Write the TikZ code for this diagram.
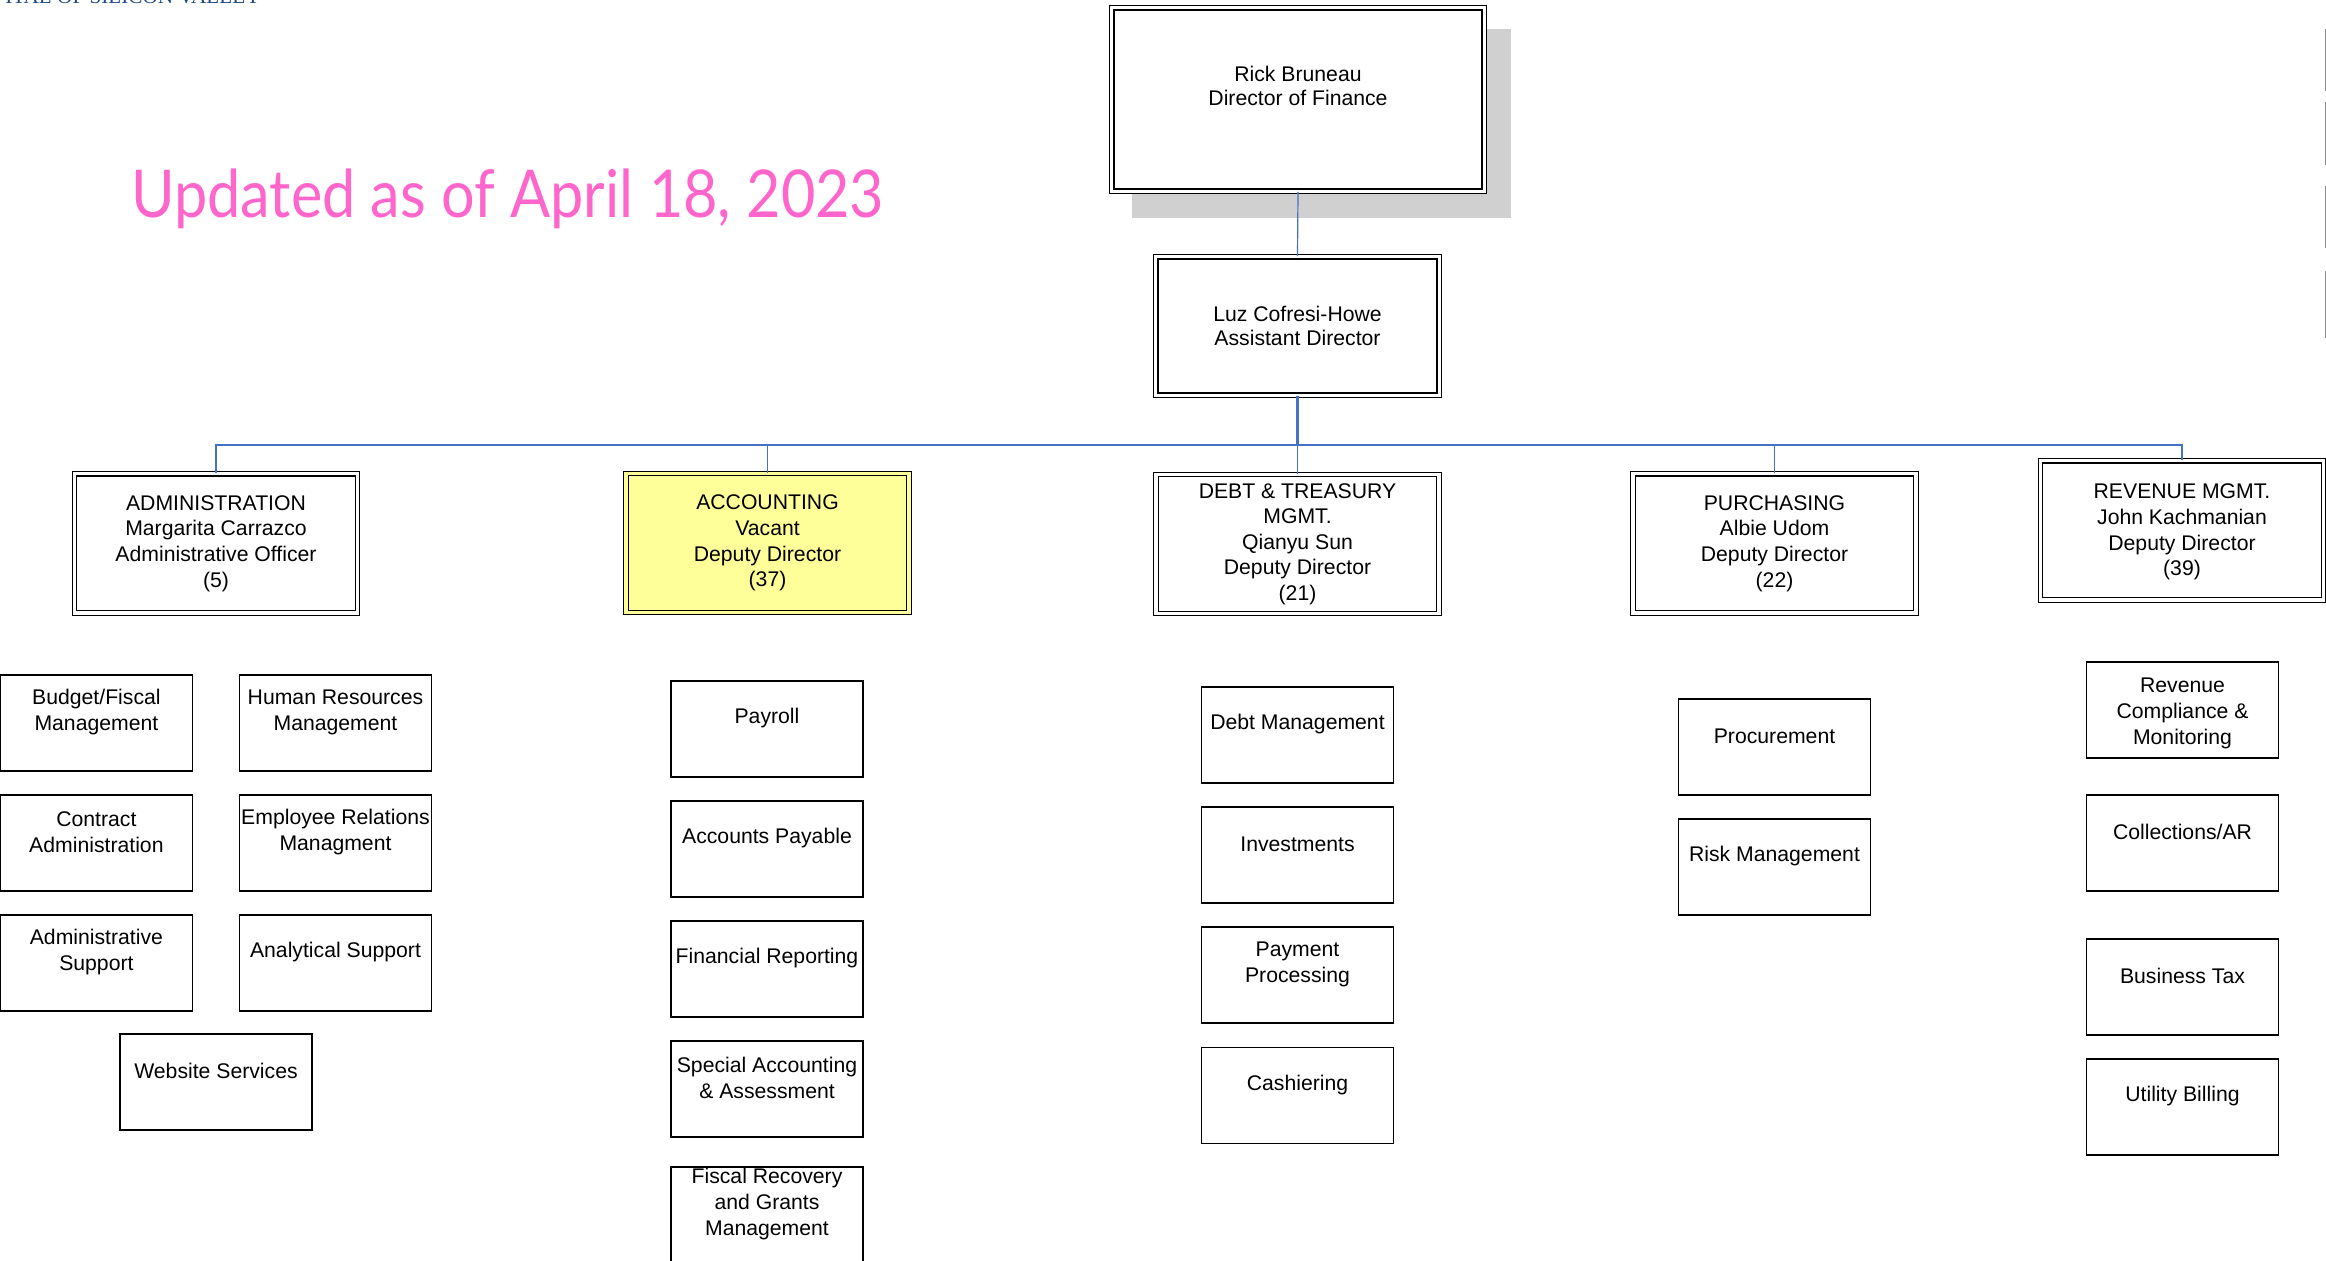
\documentclass[tikz,border=0pt]{standalone}
\usepackage{fontspec}
\setmainfont{Liberation Sans}
\newfontfamily\titlefont{Lato}
\newfontfamily\serifhead{Liberation Serif}
\usetikzlibrary{calc}
\definecolor{linkblue}{RGB}{68,114,196}
\definecolor{accyellow}{RGB}{255,255,153}
\definecolor{shadowgray}{RGB}{208,208,208}
\definecolor{titlepink}{RGB}{255,102,204}
\definecolor{navyhead}{RGB}{31,73,125}
\definecolor{edgegray}{RGB}{140,140,140}
\begin{document}
\begin{tikzpicture}[x=0.5pt,y=-0.5pt,
  dblbox/.style={draw=black, line width=0.6pt, double=white, double distance=1.6pt,
    inner sep=0pt, align=center, font=\fontsize{10.6}{12.8}\selectfont},
  deptbox/.style={dblbox, minimum width=141.5pt, minimum height=69.6pt},
  subbox/.style={draw=black, line width=0.75pt, fill=white, inner sep=0pt,
    minimum width=96pt, minimum height=48pt},
  subtxt/.style={align=center, inner sep=0pt, font=\fontsize{10.6}{13}\selectfont},
  conn/.style={draw=linkblue, line width=0.8pt},
]
\useasboundingbox (0,0) rectangle (2326,1261);
\clip (0,0) rectangle (2326,1261);

% header remnants
\node[anchor=base east, inner sep=0pt, text=navyhead, font=\serifhead\fontsize{10.6}{12}\selectfont] (cap) at (261,4) {CAPITAL OF SILICON VALLEY};
\node[anchor=base west, inner sep=0pt, text=titlepink, font=\titlefont\fontsize{33}{40}\selectfont] (title) at (131,218) {\scalebox{0.9}[1]{Updated as of April 18, 2023}};

% right edge fragments
\foreach \a/\b in {29/91,102/165,186/248,271/338}
  \draw[edgegray, line width=0.5pt] (2325.3,\a) -- (2325.3,\b);

% director
\fill[shadowgray] (1132,29) rectangle (1511,218);
\node[dblbox, fill=white, minimum width=186.2pt, minimum height=91.7pt] (dir) at (1298,99.5) {};
\node[subtxt, font=\fontsize{10.6}{12}\selectfont] (dirT) at (1298,86) {Rick Bruneau\\Director of Finance};

% assistant
\node[dblbox, minimum width=141.7pt, minimum height=69.2pt, font=\fontsize{10.6}{12}\selectfont] (asst) at (1297.5,326) {Luz Cofresi-Howe\\Assistant Director};

% departments
\node[deptbox] (admin) at (216,543.5) {ADMINISTRATION\\Margarita Carrazco\\Administrative Officer\\(5)};
\node[deptbox, fill=accyellow, double=accyellow] (acct) at (767.5,543) {ACCOUNTING\\Vacant\\Deputy Director\\(37)};
\node[deptbox] (debt) at (1297.5,544) {DEBT \& TREASURY\\MGMT.\\Qianyu Sun\\Deputy Director\\(21)};
\node[deptbox] (purch) at (1774.5,543.5) {PURCHASING\\Albie Udom\\Deputy Director\\(22)};
\node[deptbox] (rev) at (2182,530.5) {};
\node[subtxt, font=\fontsize{10.6}{12.8}\selectfont] (revT) at (2182,532) {REVENUE MGMT.\\John Kachmanian\\Deputy Director\\(39)};

% connectors
\coordinate (bus) at (1297.5,445);
\draw[conn, line width=0.6pt] (dir.south) -- (asst.north);
\draw[conn, line width=1.3pt] (asst.south) -- (bus);
\foreach \n in {admin,acct,debt,purch,rev}
  \draw[conn] (bus) -| (\n.north);

% sub units
\newcommand{\unit}[4]{% name, x, y(center), text
  \node[subbox] (#1) at (#2,#3) {};
  \node[subtxt] (#1T) at ($(#1.north)+(0,38)$) {#4};}

% administration
\unit{budget}{96.4}{723}{Budget/Fiscal\\Management}
\unit{hr}{335.5}{723}{Human Resources\\Management}
\unit{contract}{96.4}{843}{Contract\\Administration}
\unit{emprel}{335.5}{843}{Employee Relations\\Managment}
\unit{adminsup}{96.4}{963}{Administrative\\Support}
\unit{analyt}{335.5}{963}{Analytical Support}
\unit{web}{216}{1082}{Website Services}

% accounting
\unit{payroll}{767}{729}{Payroll}
\unit{ap}{767}{849}{Accounts Payable}
\unit{finrep}{767}{969}{Financial Reporting}
\unit{special}{767}{1089}{Special Accounting\\\& Assessment}
\unit{fiscal}{767}{1215}{Fiscal Recovery\\and Grants\\Management}

% debt & treasury
\unit{debtm}{1297.5}{735}{Debt Management}
\unit{invest}{1297.5}{855}{Investments}
\unit{payproc}{1297.5}{975}{Payment\\Processing}
\unit{cashier}{1297.5}{1095.5}{Cashiering}

% purchasing
\unit{procure}{1774.5}{747}{Procurement}
\unit{risk}{1774.5}{867}{Risk Management}

% revenue
\node[subbox] (revcomp) at (2182.5,710) {};
\node[subtxt, font=\fontsize{10.6}{12.8}\selectfont] (revcompT) at (2182.5,713.5) {Revenue\\Compliance \&\\Monitoring};
\unit{collect}{2182.5}{843}{Collections/AR}
\unit{bustax}{2182.5}{987}{Business Tax}
\unit{utility}{2182.5}{1107}{Utility Billing}
\end{tikzpicture}
\end{document}
